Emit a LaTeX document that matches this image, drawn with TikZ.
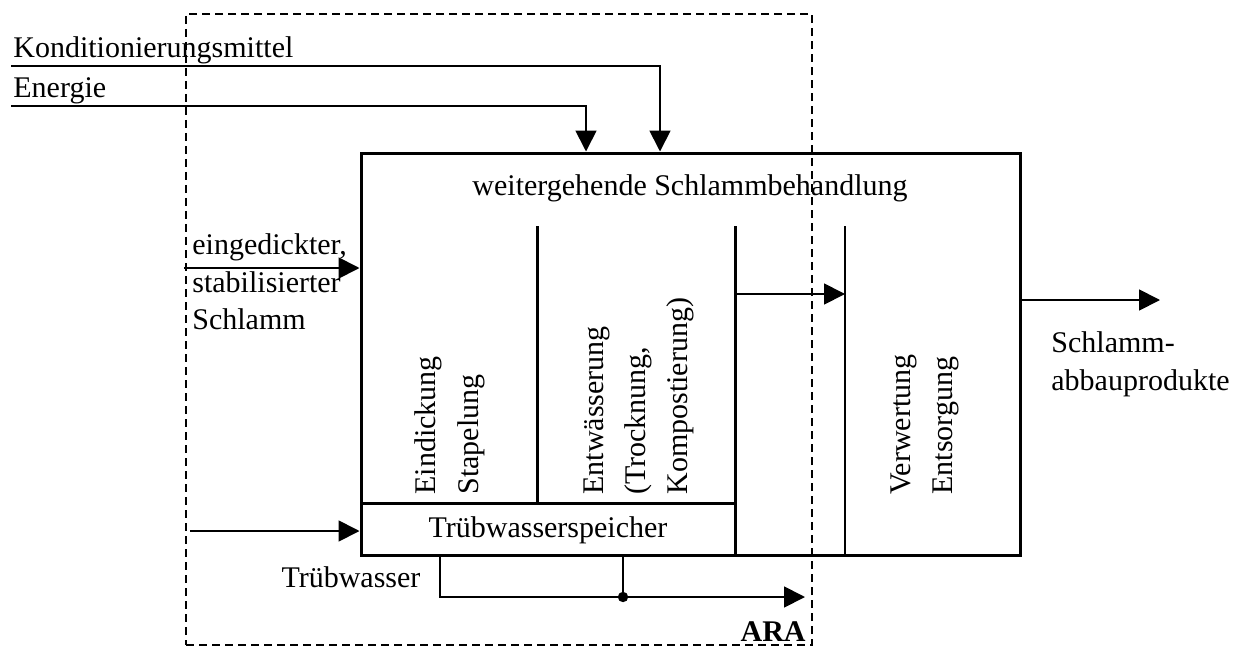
\documentclass[tikz,border=0pt]{standalone}
\usepackage{fontspec}
\setmainfont{Liberation Serif}
\usetikzlibrary{arrows.meta,fit}
\begin{document}
\begin{tikzpicture}[x=0.5pt,y=-0.5pt,
  font=\fontsize{15}{18}\selectfont,
  frame/.style={line width=1.5pt},
  thinframe/.style={line width=1.1pt},
  flow/.style={line width=0.9pt,-{Triangle[length=10.5pt,width=10.5pt]}},
  plain/.style={line width=0.9pt},
  lbl/.style={inner sep=0pt},
  vlbl/.style={inner sep=0pt,rotate=90,anchor=base west},
  border/.style={line width=0.9pt,dash pattern=on 4pt off 2.5pt}]
\useasboundingbox (0,0) rectangle (1242,648);

% plant boundary (ARA)
\coordinate (ara-nw) at (186,14);
\coordinate (ara-se) at (812,645);
\node[draw, border, fit=(ara-nw)(ara-se), inner sep=0pt] (ara) {};
\node[lbl, anchor=base east, font=\fontsize{15}{18}\selectfont\bfseries] (ara-l) at (806,641) {ARA};

% main treatment block
\coordinate (m-nw) at (361,153);
\coordinate (m-se) at (1020,555);
\node[draw, frame, fit=(m-nw)(m-se), inner sep=0pt] (main) {};
\node[lbl] (title) at (690,188) {weitergehende Schlammbehandlung};

% storage for process water
\coordinate (s-nw) at (361,503);
\coordinate (s-se) at (735,555);
\node[draw, frame, fit=(s-nw)(s-se), inner sep=0pt] (speicher) {};
\node[lbl] (speicher-l) at (548,530) {Trübwasserspeicher};

% inner partitions
\draw[frame] (537,226) -- (537,503);
\draw[frame] (735,226) -- (735,555);
\draw[thinframe] (845,226) -- (845,555);

% stage labels
\node[vlbl] (s1a) at (435,495) {Eindickung};
\node[vlbl] (s1b) at (478,495) {Stapelung};
\node[vlbl] (s2a) at (603,495) {Entwässerung};
\node[vlbl] (s2b) at (645,495) {(Trocknung,};
\node[vlbl] (s2c) at (687,495) {Kompostierung)};
\node[vlbl] (s3a) at (910,495) {Verwertung};
\node[vlbl] (s3b) at (952,495) {Entsorgung};

% inputs from above
\coordinate (kond-in) at (11,66);
\coordinate (en-in) at (11,106);
\coordinate (kond-x) at (660,0);
\coordinate (en-x) at (586,0);
\node[lbl, anchor=base west] (kond-l) at (13,57) {Konditionierungsmittel};
\node[lbl, anchor=base west] (en-l) at (13,97) {Energie};
\draw[flow] (kond-in) -| (main.north -| kond-x);
\draw[flow] (en-in) -| (main.north -| en-x);

% sludge input
\coordinate (sl-in) at (184,268);
\draw[flow] (sl-in) -- (sl-in -| main.west);
\node[lbl, anchor=base west] (sl-l1) at (192,254) {eingedickter,};
\node[lbl, anchor=base west] (sl-l2) at (192,292) {stabilisierter};
\node[lbl, anchor=base west] (sl-l3) at (192,329) {Schlamm};

% water input to storage
\coordinate (w-in) at (190,531);
\draw[flow] (w-in) -- (w-in -| speicher.west);

% process water output
\coordinate (tw-a) at (440,0);
\coordinate (tw-b) at (623,597);
\coordinate (tw-out) at (805,597);
\draw[flow] (speicher.south -| tw-a) |- (tw-out);
\draw[plain] (speicher.south -| tw-b) -- (tw-b);
\fill (tw-b) circle (2.6pt);
\node[lbl, anchor=base] (tw-l) at (351,587) {Trübwasser};

% transfer between stages
\coordinate (tr-a) at (735,294);
\coordinate (tr-b) at (845,294);
\draw[flow] (tr-a) -- (tr-b);

% products
\coordinate (out) at (1160,300);
\draw[flow] (out -| main.east) -- (out);
\node[lbl, anchor=base west] (p-l1) at (1051,352) {Schlamm-};
\node[lbl, anchor=base west] (p-l2) at (1051,390) {abbauprodukte};
\end{tikzpicture}
\end{document}
